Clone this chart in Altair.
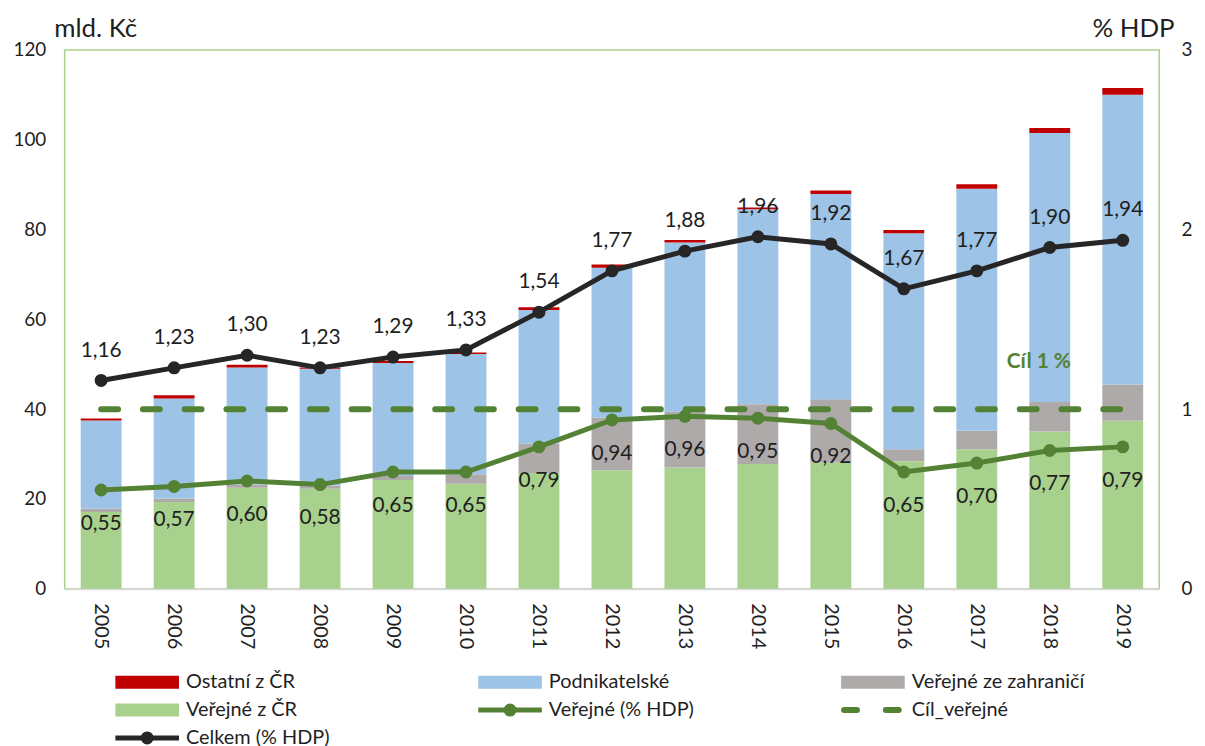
import altair as alt
import pandas as pd

# ---------------- data ----------------
years = [str(y) for y in range(2005, 2020)]

ostatni_cr = [0.4, 0.7, 0.6, 0.3, 0.4, 0.3, 0.6, 0.7, 0.6, 0.4, 0.8, 0.7, 1.0, 1.1, 1.5]
podnikatelske = [19.6, 22.3, 26.1, 26.0, 25.2, 26.8, 29.8, 33.4, 37.7, 43.4, 45.7, 48.1, 53.9, 59.9, 64.5]
verejne_zahranici = [0.8, 0.8, 0.7, 0.7, 0.9, 2.1, 6.5, 11.7, 12.4, 13.3, 14.1, 2.7, 4.1, 6.6, 8.1]
verejne_cr = [17.1, 19.3, 22.5, 22.3, 24.2, 23.4, 25.8, 26.4, 27.0, 27.8, 28.1, 28.4, 31.1, 35.0, 37.4]

celkem_hdp = [1.16, 1.23, 1.30, 1.23, 1.29, 1.33, 1.54, 1.77, 1.88, 1.96, 1.92, 1.67, 1.77, 1.90, 1.94]
verejne_hdp = [0.55, 0.57, 0.60, 0.58, 0.65, 0.65, 0.79, 0.94, 0.96, 0.95, 0.92, 0.65, 0.70, 0.77, 0.79]
cil_verejne = [1.0, 1.0, 1.0, 1.0, 1.0, 1.0, 1.0, 1.0, 1.0, 1.0, 1.0, 1.0, 1.0, 1.0, 1.0]

bar_series = ["Veřejné z ČR", "Veřejné ze zahraničí", "Podnikatelské", "Ostatní z ČR"]
bar_values = [verejne_cr, verejne_zahranici, podnikatelske, ostatni_cr]

left_ticks = [0, 20, 40, 60, 80, 100, 120]
right_ticks = [0, 1, 2, 3]

legend_labels = ["Ostatní z ČR", "Podnikatelské", "Veřejné ze zahraničí",
                 "Veřejné z ČR", "Veřejné (% HDP)", "Cíl_veřejné",
                 "Celkem (% HDP)"]
legend_col = [0, 1, 2, 0, 1, 2, 0]
legend_row = [0, 0, 0, 1, 1, 1, 2]
legend_kind = ["rect", "rect", "rect", "rect", "line", "dash", "line"]

# ---------------- styles ----------------
FONT = "Lato"
TXT = "#1f1f1f"
RED = "#c00000"
BLUE = "#9dc3e6"
GRAY = "#aeaaaa"
LGREEN = "#a9d18e"
DGREEN = "#548235"
BLACK = "#262626"
bar_colors = [LGREEN, GRAY, BLUE, RED]
legend_colors = [RED, BLUE, GRAY, LGREEN, DGREEN, DGREEN, BLACK]

W, H = 1101, 542

# ---------------- tables ----------------
rows = []
for k, (s, vals) in enumerate(zip(bar_series, bar_values)):
    for y, v in zip(years, vals):
        rows.append({"rok": y, "serie": s, "hodnota": v, "poradi": k})
bars_df = pd.DataFrame(rows)


def fmt(v):
    return f"{v:.2f}".replace(".", ",")


lines_df = pd.DataFrame({
    "rok": years,
    "celkem": celkem_hdp,
    "verejne": verejne_hdp,
    "cil": cil_verejne,
    "celkem_txt": [fmt(v) for v in celkem_hdp],
    "verejne_txt": [fmt(v) for v in verejne_hdp],
})

x_enc = alt.X("rok:O", sort=years,
              scale=alt.Scale(paddingInner=0.44, paddingOuter=0.22),
              axis=alt.Axis(title=None, labelAngle=90, labelFontSize=20,
                            labelFont=FONT, labelColor=TXT, ticks=False,
                            labelPadding=14, domainColor="#d9d9d9",
                            domainWidth=2))

bars = alt.Chart(bars_df).mark_bar().encode(
    x=x_enc,
    y=alt.Y("hodnota:Q", stack="zero",
            scale=alt.Scale(domain=[0, 120], nice=False),
            axis=alt.Axis(values=left_ticks, title="mld. Kč", titleAngle=0,
                          titleAlign="left", titleBaseline="middle",
                          titleX=-11, titleY=-22, titleFontSize=26,
                          titleFont=FONT, titleFontWeight="normal",
                          titleColor=TXT, labelFontSize=19, labelFont=FONT,
                          labelColor=TXT, ticks=False, domain=False,
                          grid=False, labelPadding=19)),
    color=alt.Color("serie:N", scale=alt.Scale(domain=bar_series, range=bar_colors),
                    legend=None),
    order=alt.Order("poradi:Q"),
)

yr_axis = alt.Axis(values=right_ticks, orient="right", title="% HDP",
                   titleAngle=0, titleAlign="right", titleBaseline="middle",
                   titleX=15, titleY=-22, titleFontSize=26, titleFont=FONT,
                   titleFontWeight="normal", titleColor=TXT,
                   labelFontSize=19, labelFont=FONT, labelColor=TXT,
                   ticks=False, domain=False, grid=False, labelPadding=22)
yr_scale = alt.Scale(domain=[0, 3], nice=False)


def yr(field):
    return alt.Y(field, scale=yr_scale, axis=yr_axis)


base = alt.Chart(lines_df)

cil_line = base.mark_line(color=DGREEN, strokeWidth=6, strokeDash=[17, 25],
                          strokeCap="round").encode(x=x_enc, y=yr("cil:Q"))

cil_text = base.transform_filter(alt.datum.rok == "2018").mark_text(
    text="Cíl 1 %", color=DGREEN, fontSize=21, fontWeight="bold", font=FONT,
    dx=-11, dy=-47).encode(x=x_enc, y=yr("cil:Q"))

ver_line = base.mark_line(color=DGREEN, strokeWidth=5).encode(
    x=x_enc, y=yr("verejne:Q"))
ver_pts = base.mark_circle(color=DGREEN, size=170, opacity=1).encode(
    x=x_enc, y=yr("verejne:Q"))
ver_txt = base.mark_text(fontSize=21, font=FONT, color=TXT, dy=34).encode(
    x=x_enc, y=yr("verejne:Q"), text="verejne_txt:N")

cel_line = base.mark_line(color=BLACK, strokeWidth=5).encode(
    x=x_enc, y=yr("celkem:Q"))
cel_pts = base.mark_circle(color=BLACK, size=170, opacity=1).encode(
    x=x_enc, y=yr("celkem:Q"))
cel_txt = base.mark_text(fontSize=21, font=FONT, color=TXT, dy=-30).encode(
    x=x_enc, y=yr("celkem:Q"), text="celkem_txt:N")

right_layer = alt.layer(cil_line, cil_text, ver_line, ver_pts, ver_txt,
                        cel_line, cel_pts, cel_txt)

main = alt.layer(bars, right_layer).resolve_scale(y="independent").properties(
    width=W, height=H,
    view=alt.ViewBackground(stroke=LGREEN, strokeWidth=1.5))

# ---------------- legend panel ----------------
leg_df = pd.DataFrame({"label": legend_labels, "col": legend_col,
                       "row": legend_row, "kind": legend_kind})
lx = alt.X("col:Q", scale=alt.Scale(domain=[-51 / 365, (W - 51) / 365],
                                    nice=False, zero=False), axis=None)
lx2 = alt.X2("col:Q")
ly = alt.Y("row:Q", scale=alt.Scale(domain=[-0.5, 2.5], reverse=True,
                                    nice=False, zero=False), axis=None)
lcol = alt.Color("label:N", scale=alt.Scale(domain=legend_labels,
                                            range=legend_colors), legend=None)
lbase = alt.Chart(leg_df)

leg_rect = lbase.transform_filter(alt.datum.kind == "rect").mark_rule(
    strokeWidth=13, x2Offset=64, strokeCap="butt").encode(
    x=lx, x2=lx2, y=ly, color=lcol)
leg_line = lbase.transform_filter(alt.datum.kind == "line").mark_rule(
    strokeWidth=5, x2Offset=64).encode(x=lx, x2=lx2, y=ly, color=lcol)
leg_pt = lbase.transform_filter(alt.datum.kind == "line").mark_circle(
    size=170, opacity=1, xOffset=32).encode(x=lx, y=ly, color=lcol)
leg_dash = lbase.transform_filter(alt.datum.kind == "dash").mark_rule(
    strokeWidth=6, x2Offset=64, strokeDash=[13, 29], strokeCap="round",
    xOffset=3).encode(x=lx, x2=lx2, y=ly, color=lcol)
leg_txt = lbase.mark_text(align="left", baseline="middle", dx=71,
                          fontSize=20, font=FONT, color=TXT).encode(
    x=lx, y=ly, text="label:N")

legend = alt.layer(leg_rect, leg_line, leg_pt, leg_dash, leg_txt).properties(
    width=W, height=84,
    view=alt.ViewBackground(strokeOpacity=0))

chart = alt.vconcat(main, legend, spacing=18).resolve_scale(
    color="independent").properties(
    padding={"left": 4, "top": 4, "right": 4, "bottom": 0}
).configure(font=FONT)

chart.save("out.html", embed_options={"renderer": "svg", "actions": False})
